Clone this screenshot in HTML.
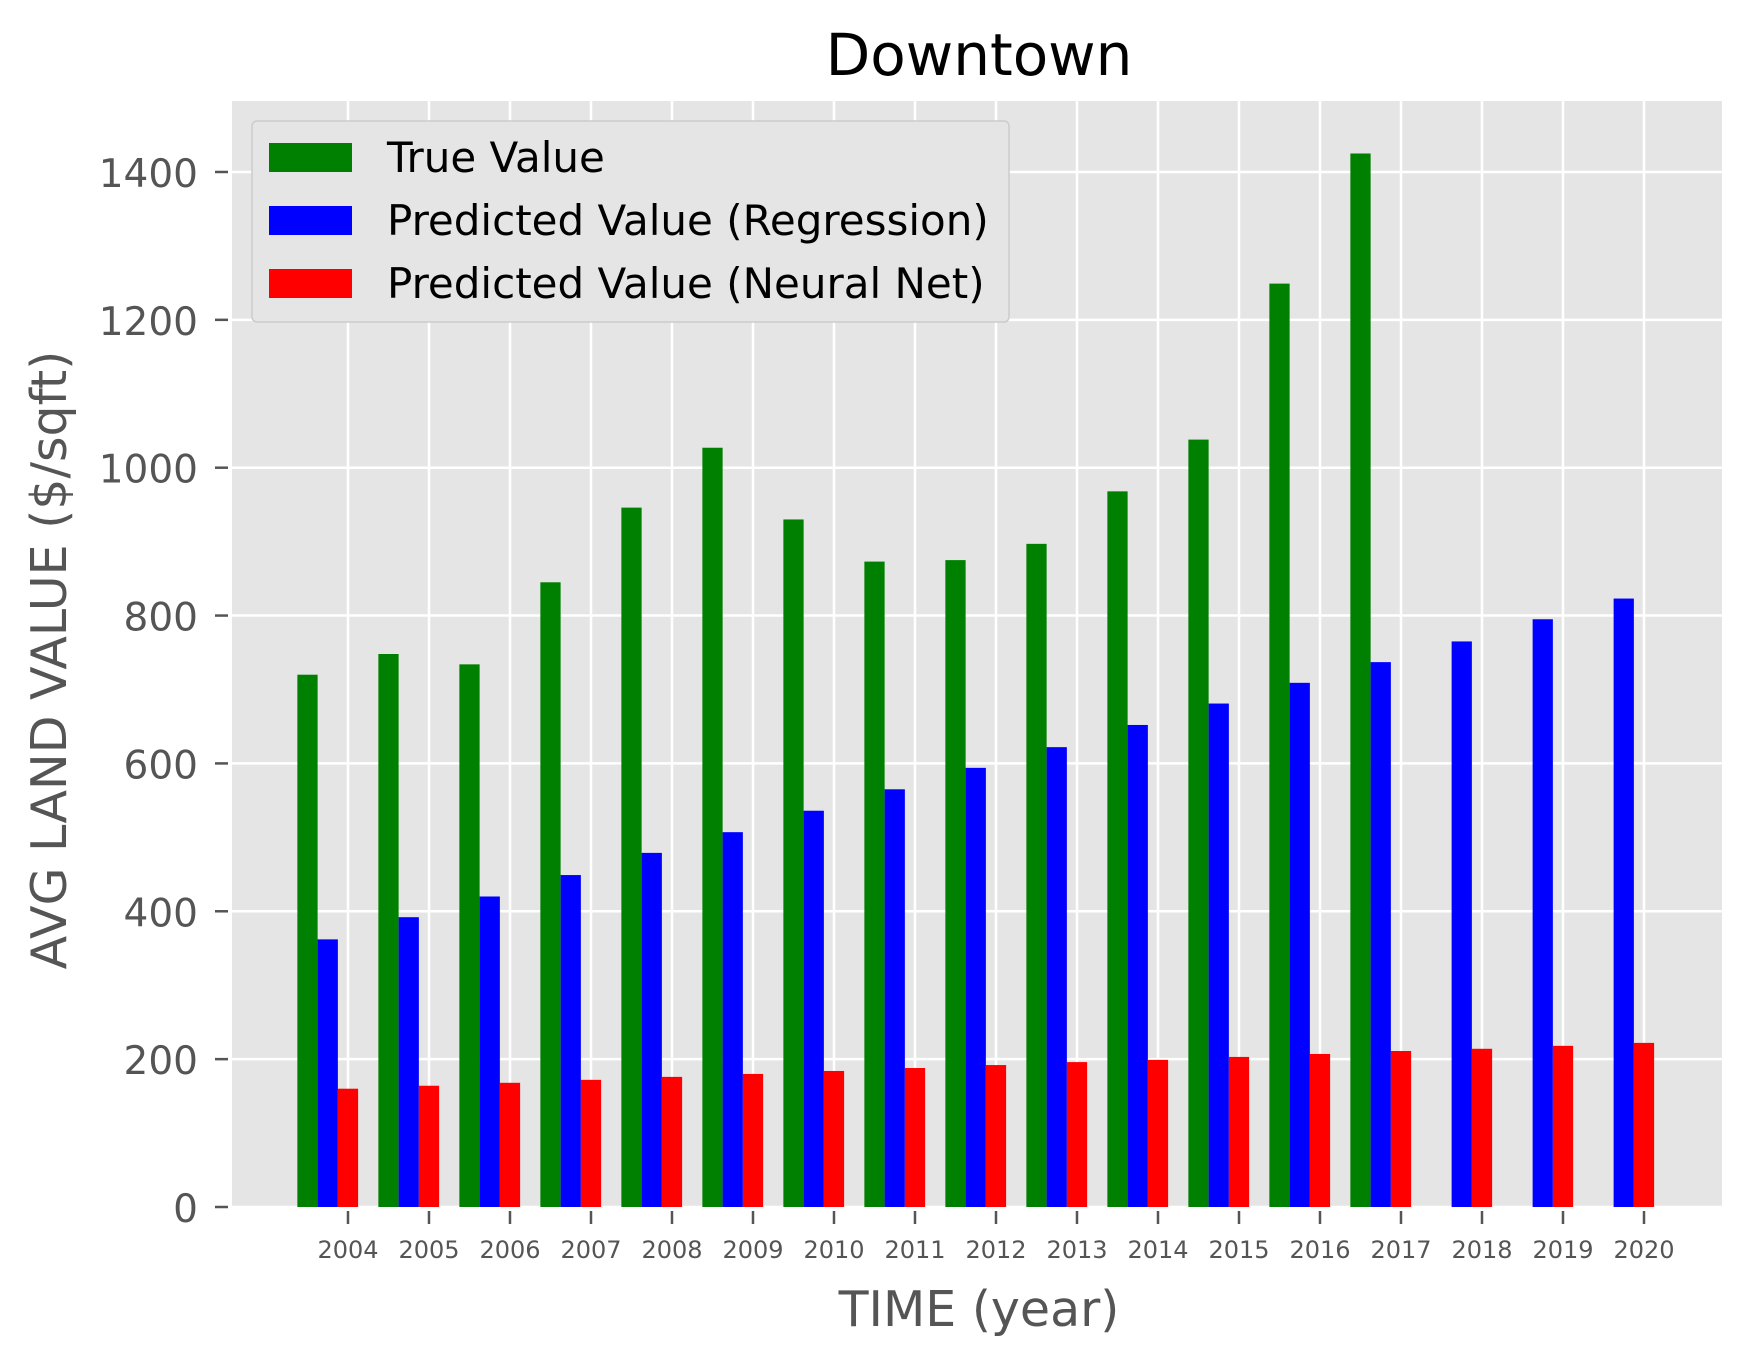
<!DOCTYPE html>
<html><head><meta charset="utf-8"><style>
html,body{margin:0;padding:0;background:#fff;}
svg{display:block;font-family:"DejaVu Sans","Liberation Sans",sans-serif;}
</style></head><body>
<svg id="chart" width="1751" height="1357" viewBox="0 0 1751 1357" xmlns="http://www.w3.org/2000/svg">
<rect x="232" y="101" width="1490" height="1106" fill="#e5e5e5"/>
<g id="grid"></g>
<g id="bars"></g>
<g id="axes"></g>
<text x="979" y="75" font-size="58" text-anchor="middle" fill="#000">Downtown</text>
<text x="979" y="1326" font-size="49" text-anchor="middle" fill="#555">TIME (year)</text>
<text transform="translate(66,660) rotate(-90)" font-size="49" text-anchor="middle" fill="#555">AVG LAND VALUE ($/sqft)</text>
<g>
<rect x="252" y="121" width="757" height="201" rx="5" fill="#e5e5e5" stroke="#ccc" stroke-width="1.5"/>
<rect x="269" y="143" width="83" height="29" fill="#008000"/>
<text x="387" y="172" font-size="42" fill="#000">True Value</text>
<rect x="269" y="206" width="83" height="29" fill="#0000ff"/>
<text x="387" y="235" font-size="42" fill="#000">Predicted Value (Regression)</text>
<rect x="269" y="269" width="83" height="29" fill="#ff0000"/>
<text x="387" y="298" font-size="42" fill="#000">Predicted Value (Neural Net)</text>
</g>
</svg>
<script>
const years=[2004,2005,2006,2007,2008,2009,2010,2011,2012,2013,2014,2015,2016,2017,2018,2019,2020];
const trueYears=[2004,2005,2006,2007,2008,2009,2010,2011,2012,2013,2014,2015,2016,2017];
const trueValues=[720,748,734,845,946,1027,930,873,875,897,968,1038,1249,1425];
const regressionValues=[362,392,420,449,479,507,536,565,594,622,652,681,709,737,765,795,823];
const neuralValues=[160,164,168,172,176,180,184,188,192,196,199,203,207,211,214,218,222];
const yTicks=[0,200,400,600,800,1000,1200,1400];

const NS="http://www.w3.org/2000/svg";
const L=232,R=1722,T=101,B=1207;
const xmin=2002.568,xmax=2020.963,ymin=0,ymax=1496;
function xs(v){return L+(v-xmin)/(xmax-xmin)*(R-L);}
function ys(v){return B-(v-ymin)/(ymax-ymin)*(B-T);}
function mk(tag,attrs,parent){const e=document.createElementNS(NS,tag);for(const k in attrs)e.setAttribute(k,attrs[k]);parent.appendChild(e);return e;}
const grid=document.getElementById('grid'),bars=document.getElementById('bars'),axes=document.getElementById('axes');
const bw=0.25;
yTicks.forEach(t=>{
  const g=mk('line',{x1:L,x2:R,y1:ys(t),y2:ys(t),stroke:'#fff','stroke-width':2.5},grid);
  
  
  const tk=mk('line',{x1:L-17,x2:L-4,y1:ys(t),y2:ys(t),stroke:'#555','stroke-width':2.5},axes);
  
  
  const tx=mk('text',{x:L-34,y:ys(t)+15,'font-size':39,'text-anchor':'end',fill:'#555'},axes);
  tx.textContent=t;
  
  
});
years.forEach(y=>{
  const g=mk('line',{x1:xs(y),x2:xs(y),y1:T,y2:B,stroke:'#fff','stroke-width':2.5},grid);
  
  
  const tk=mk('line',{x1:xs(y),x2:xs(y),y1:B+4,y2:B+17,stroke:'#555','stroke-width':2.5},axes);
  
  
  const tx=mk('text',{x:xs(y),y:B+51,'font-size':24,'text-anchor':'middle',fill:'#555'},axes);
  tx.textContent=y;
  
  
});
function drawBar(cx,v,color,name){
  const x0=xs(cx-bw/2),x1=xs(cx+bw/2);
  const r=mk('rect',{x:x0,y:ys(v),width:x1-x0,height:ys(0)-ys(v),fill:color},bars);
  
  
}
trueYears.forEach((y,i)=>drawBar(y-0.5,trueValues[i],'#008000','bar-true-'+y));
years.forEach((y,i)=>drawBar(y-0.25,regressionValues[i],'#0000ff','bar-regression-'+y));
years.forEach((y,i)=>drawBar(y,neuralValues[i],'#ff0000','bar-neural-'+y));
</script>
</body></html>
